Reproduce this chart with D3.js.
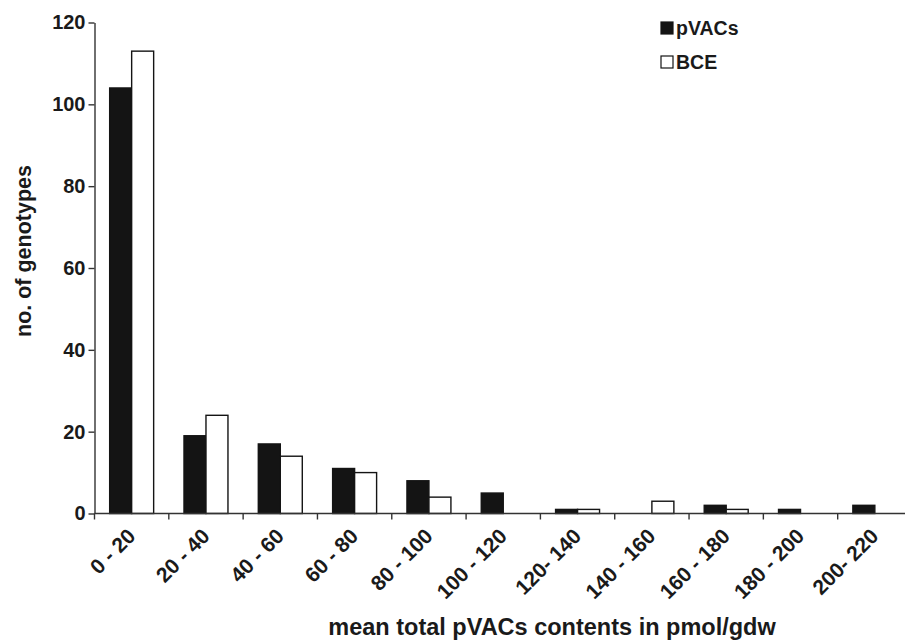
<!DOCTYPE html>
<html>
<head>
  <script src="https://d3js.org/d3.v7.min.js"></script>
  <style>
    body { margin: 0; background: #fff; }
    text { font-family: "Liberation Sans", Arial, Helvetica, sans-serif; font-weight: bold; fill: #1a1a1a; }
    .axis path, .axis line { stroke: #333; stroke-width: 1.4px; }
  </style>
</head>
<body>
  <div id="chart"></div>
  <script>
    // data
    var categories = ["0 - 20", "20 - 40", "40 - 60", "60 - 80", "80 - 100", "100 - 120",
                      "120- 140", "140 - 160", "160 - 180", "180 - 200", "200- 220"];
    var series = ["pVACs", "BCE"];
    var pvacs = [104, 19, 17, 11, 8, 5, 1, 0, 2, 1, 2];
    var bce = [113, 24, 14, 10, 4, 0, 1, 3, 1, 0, 0];
    var yTicks = [0, 20, 40, 60, 80, 100, 120];

    var width = 905, height = 640;
    var margin = {top: 22.5, left: 94.5, right: -7, bottom: 126.5};

    var svg = d3.select("#chart").append("svg")
      .attr("width", width)
      .attr("height", height);

    var rows = categories.map(function(c, i) {
      return {cat: c, values: [{key: "pVACs", v: pvacs[i]}, {key: "BCE", v: bce[i]}]};
    });

    var x0 = d3.scaleBand()
      .domain(categories)
      .range([margin.left, width - margin.right])
      .paddingInner(0);

    var x1 = d3.scaleBand()
      .domain(series)
      .range([0, x0.bandwidth()])
      .paddingInner(0)
      .paddingOuter(0.69);

    var y = d3.scaleLinear()
      .domain([0, 120])
      .range([height - margin.bottom, margin.top]);

    var fill = {pVACs: "#141414", BCE: "#ffffff"};

    /* BARS */
    var groups = svg.selectAll("g.grp")
      .data(rows)
      .enter().append("g")
        .attr("class", "grp")
        .attr("transform", function(d) { return "translate(" + x0(d.cat) + ",0)"; });

    groups.selectAll("rect")
      .data(function(d) { return d.values.filter(function(e) { return e.v > 0; }); })
      .enter().append("rect")
        .attr("x", function(d) { return x1(d.key); })
        .attr("width", x1.bandwidth())
        .attr("y", function(d) { return y(d.v); })
        .attr("height", function(d) { return y(0) - y(d.v); })
        .attr("fill", function(d) { return fill[d.key]; })
        .attr("stroke", "#141414")
        .attr("stroke-width", 1.4);

    /* Y AXIS */
    var yAxis = svg.append("g")
      .attr("class", "axis")
      .attr("transform", "translate(" + margin.left + ",0)")
      .call(d3.axisLeft(y).tickValues(yTicks).tickSize(6).tickSizeOuter(0).tickPadding(3));
    yAxis.selectAll("text").style("font-size", "20px");

    /* X AXIS: baseline, ticks at band edges, rotated labels at centres */
    var xAxis = svg.append("g").attr("class", "axis");
    xAxis.append("line")
      .attr("x1", margin.left).attr("x2", width)
      .attr("y1", y(0)).attr("y2", y(0));
    xAxis.selectAll("line.tick")
      .data(categories.slice(1))
      .enter().append("line")
        .attr("class", "tick")
        .attr("x1", function(d) { return x0(d); })
        .attr("x2", function(d) { return x0(d); })
        .attr("y1", y(0)).attr("y2", y(0) + 6);
    xAxis.append("line")
      .attr("x1", margin.left).attr("x2", margin.left)
      .attr("y1", y(0)).attr("y2", y(0) + 6);

    xAxis.selectAll("text")
      .data(categories)
      .enter().append("text")
        .attr("transform", function(d) {
          return "translate(" + (x0(d) + x0.bandwidth() / 2 + 5) + "," + (y(0) + 24) + ") rotate(-45)";
        })
        .attr("text-anchor", "end")
        .style("font-size", "21px")
        .text(function(d) { return d; });

    /* AXIS TITLES */
    svg.append("text")
      .attr("x", 552)
      .attr("y", 635)
      .attr("text-anchor", "middle")
      .style("font-size", "23.5px")
      .text("mean total pVACs contents in pmol/gdw");

    svg.append("text")
      .attr("transform", "rotate(-90)")
      .attr("x", -251)
      .attr("y", 31)
      .attr("text-anchor", "middle")
      .style("font-size", "21.5px")
      .text("no. of genotypes");

    /* LEGEND */
    var legend = svg.selectAll("g.legend")
      .data(series)
      .enter().append("g")
        .attr("class", "legend")
        .attr("transform", function(d, i) { return "translate(661," + (22 + i * 34) + ")"; });
    legend.append("rect")
      .attr("width", 12).attr("height", 12)
      .attr("fill", function(d) { return fill[d]; })
      .attr("stroke", "#141414")
      .attr("stroke-width", 1.2);
    legend.append("text")
      .attr("x", 15)
      .attr("y", 12.5)
      .style("font-size", "19.5px")
      .text(function(d) { return d; });
  </script>
</body>
</html>
